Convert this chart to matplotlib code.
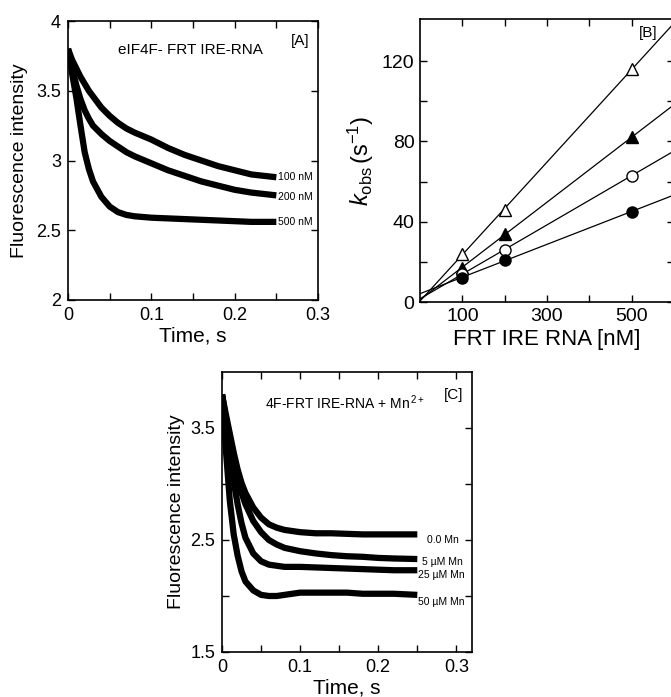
import numpy as np
import matplotlib
matplotlib.use("Agg")
import matplotlib.pyplot as plt

plt.rcParams['font.family'] = ['Liberation Sans', 'DejaVu Sans']
plt.rcParams['mathtext.fontset'] = 'custom'
plt.rcParams['mathtext.rm'] = 'Liberation Sans'
plt.rcParams['mathtext.it'] = 'Liberation Sans:italic'

# ---------------- data ----------------
time_s = [0, 0.005, 0.01, 0.015, 0.02, 0.025, 0.03, 0.04, 0.05, 0.06, 0.07,
          0.08, 0.1, 0.12, 0.14, 0.16, 0.18, 0.2, 0.22, 0.25]

# Panel A traces (eIF4F - FRT IRE-RNA)
a_labels = ["100 nM", "200 nM", "500 nM"]
a_100 = [3.80, 3.72, 3.66, 3.60, 3.55, 3.50, 3.46, 3.38, 3.32, 3.27, 3.23,
         3.20, 3.15, 3.09, 3.04, 3.00, 2.96, 2.93, 2.90, 2.88]
a_200 = [3.80, 3.66, 3.54, 3.44, 3.36, 3.30, 3.25, 3.19, 3.14, 3.10, 3.06,
         3.03, 2.98, 2.93, 2.89, 2.85, 2.82, 2.79, 2.77, 2.75]
a_500 = [3.80, 3.62, 3.45, 3.25, 3.06, 2.94, 2.85, 2.74, 2.67, 2.63, 2.61,
         2.60, 2.59, 2.585, 2.58, 2.575, 2.57, 2.565, 2.56, 2.56]
a_label_y = [2.88, 2.74, 2.56]

# Panel B: kobs vs FRT IRE RNA
rna_nM = [100, 200, 500]
kobs_open_tri = [24, 46, 116]
kobs_fill_tri = [17, 34, 82]
kobs_open_circ = [14, 26, 63]
kobs_fill_circ = [12, 21, 45]

# Panel C traces (4F-FRT IRE-RNA + Mn2+)
c_labels = ["0.0 Mn", "5 \u00b5M Mn", "25 \u00b5M Mn", "50 \u00b5M Mn"]
c_0 = [3.80, 3.62, 3.45, 3.28, 3.13, 3.01, 2.92, 2.79, 2.70, 2.64, 2.61,
       2.59, 2.57, 2.56, 2.56, 2.555, 2.55, 2.55, 2.55, 2.55]
c_5 = [3.80, 3.58, 3.38, 3.20, 3.04, 2.92, 2.82, 2.67, 2.57, 2.50, 2.46,
       2.43, 2.40, 2.38, 2.365, 2.355, 2.35, 2.34, 2.335, 2.33]
c_25 = [3.80, 3.55, 3.28, 3.02, 2.82, 2.65, 2.52, 2.38, 2.31, 2.28, 2.27,
        2.26, 2.26, 2.255, 2.25, 2.245, 2.24, 2.235, 2.23, 2.23]
c_50 = [3.80, 3.30, 2.85, 2.55, 2.36, 2.22, 2.13, 2.05, 2.01, 2.00, 2.00,
        2.01, 2.03, 2.03, 2.03, 2.03, 2.02, 2.02, 2.02, 2.01]
c_label_x = [0.262, 0.256, 0.251, 0.251]
c_label_y = [2.50, 2.30, 2.19, 1.95]

# ---------------- figure ----------------
W, H = 671, 697
fig = plt.figure(figsize=(W / 100, H / 100), dpi=100)


def px_axes(l, t, r, b):
    return fig.add_axes([l / W, 1 - b / H, (r - l) / W, (b - t) / H])


def style(ax):
    for s in ax.spines.values():
        s.set_linewidth(1.2)
    ax.tick_params(which='both', direction='in', top=True, right=True,
                   length=5, width=1.0, labelsize=13, pad=5)


trace_kw = dict(color='black', lw=4.5, solid_joinstyle='round',
                solid_capstyle='butt')

# Panel A
axA = px_axes(68, 21, 318, 300)
for tr in (a_100, a_200, a_500):
    axA.plot(time_s, tr, **trace_kw)
axA.set_xlim(0, 0.3)
axA.set_ylim(2, 4)
axA.set_xticks([0, 0.05, 0.1, 0.15, 0.2, 0.25, 0.3])
axA.set_xticklabels(["0", "", "0.1", "", "0.2", "", "0.3"])
axA.set_yticks([2, 2.5, 3, 3.5, 4])
axA.set_yticklabels(["2", "2.5", "3", "3.5", "4"])
style(axA)
axA.set_xlabel("Time, s", fontsize=15, labelpad=2)
axA.set_ylabel("Fluorescence intensity", fontsize=14, labelpad=6)
axA.text(0.49, 0.895, "eIF4F- FRT IRE-RNA", transform=axA.transAxes,
         ha='center', va='center', fontsize=11)
axA.text(0.93, 0.93, "[A]", transform=axA.transAxes, ha='center',
         va='center', fontsize=11)
for lab, y in zip(a_labels, a_label_y):
    axA.text(0.2515, y, lab, ha='left', va='center', fontsize=7.5)

# Panel B
axB = px_axes(420, 19, 674, 302)
xfit = np.array([0, 600])
series = [(kobs_open_tri, '^', 'white'), (kobs_fill_tri, '^', 'black'),
          (kobs_open_circ, 'o', 'white'), (kobs_fill_circ, 'o', 'black')]
for ys, m, fc in series:
    p = np.polyfit(rna_nM, ys, 1)
    axB.plot(xfit, np.polyval(p, xfit), color='black', lw=0.9)
    axB.plot(rna_nM, ys, linestyle='none', marker=m, ms=8 if m == 'o' else 9,
             mfc=fc, mec='black', mew=1.0, zorder=3)
axB.set_xlim(0, 600)
axB.set_ylim(0, 141)
axB.set_xticks([100, 200, 300, 400, 500])
axB.set_xticklabels(["100", "", "300", "", "500"])
axB.set_yticks([0, 20, 40, 60, 80, 100, 120])
axB.set_yticklabels(["0", "", "40", "", "80", "", "120"])
style(axB)
axB.tick_params(labelsize=14, pad=4)
axB.spines['right'].set_visible(False)
axB.set_xlabel("FRT IRE RNA [nM]", fontsize=16, labelpad=3)
axB.set_ylabel(r"$\it{k}_{\rm obs}\,(\rm s^{-1})$", fontsize=17, labelpad=4)
axB.text(0.897, 0.95, "[B]", transform=axB.transAxes, ha='center',
         va='center', fontsize=11)

# Panel C
axC = px_axes(222, 372, 472, 652)
for tr in (c_0, c_5, c_25, c_50):
    axC.plot(time_s, tr, **trace_kw)
axC.set_xlim(0, 0.32)
axC.set_ylim(1.5, 4.0)
axC.set_xticks([0, 0.05, 0.1, 0.15, 0.2, 0.25, 0.3])
axC.set_xticklabels(["0", "", "0.1", "", "0.2", "", "0.3"])
axC.set_yticks([1.5, 2, 2.5, 3, 3.5])
axC.set_yticklabels(["1.5", "", "2.5", "", "3.5"])
style(axC)
axC.set_xlabel("Time, s", fontsize=15, labelpad=2)
axC.set_ylabel("Fluorescence intensity", fontsize=14, labelpad=4)
axC.text(0.49, 0.89, r"4F-FRT IRE-RNA + Mn$^{\,2+}$", transform=axC.transAxes,
         ha='center', va='center', fontsize=10)
axC.text(0.925, 0.918, "[C]", transform=axC.transAxes, ha='center',
         va='center', fontsize=11)
for lab, x, y in zip(c_labels, c_label_x, c_label_y):
    axC.text(x, y, lab, ha='left', va='center', fontsize=7.5)

fig.savefig("out.png", dpi=100)
